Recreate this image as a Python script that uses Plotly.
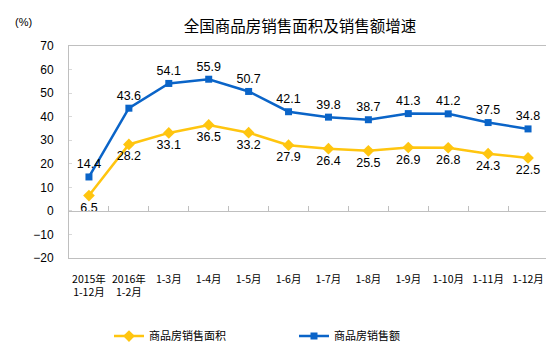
import plotly.graph_objects as go

categories = ["2015年<br>1-12月", "2016年<br>1-2月", "1-3月", "1-4月", "1-5月", "1-6月",
              "1-7月", "1-8月", "1-9月", "1-10月", "1-11月", "1-12月"]
area_growth = [6.5, 28.2, 33.1, 36.5, 33.2, 27.9, 26.4, 25.5, 26.9, 26.8, 24.3, 22.5]
sales_growth = [14.4, 43.6, 54.1, 55.9, 50.7, 42.1, 39.8, 38.7, 41.3, 41.2, 37.5, 34.8]
y_ticks = [-20, -10, 0, 10, 20, 30, 40, 50, 60, 70]

YELLOW = "#FFC50F"
BLUE = "#0A64C8"
GRID = "#BFBFBF"
FONT = "Liberation Sans, Arial, sans-serif"
CJK = "Noto Sans CJK SC, sans-serif"

fig = go.Figure()
fig.add_trace(go.Scatter(
    x=categories, y=area_growth, name="商品房销售面积",
    mode="lines+markers+text",
    line=dict(color=YELLOW, width=2.5),
    marker=dict(symbol="diamond", size=9, color=YELLOW),
    text=[f"{v:.1f}" for v in area_growth], textposition="bottom center",
    textfont=dict(family=FONT, size=12.5, color="#000000"),
))
fig.add_trace(go.Scatter(
    x=categories, y=sales_growth, name="商品房销售额",
    mode="lines+markers+text",
    line=dict(color=BLUE, width=2.5),
    marker=dict(symbol="square", size=7, color=BLUE),
    text=[f"{v:.1f}" for v in sales_growth], textposition="top center",
    textfont=dict(family=FONT, size=12.5, color="#000000"),
))

# invisible helper trace so the zero-line axis (category boundary ticks) is drawn
fig.add_trace(go.Scatter(x=[0.5], y=[0], xaxis="x2", showlegend=False,
                         mode="markers", marker=dict(opacity=0), hoverinfo="skip"))

zero_frac = (0 - y_ticks[0]) / (y_ticks[-1] - y_ticks[0])

fig.update_layout(
    width=546, height=349,
    margin=dict(l=61, r=6, t=38, b=97),
    paper_bgcolor="white", plot_bgcolor="white",
    showlegend=True,
    title=dict(text="全国商品房销售面积及销售额增速", x=0.535, xanchor="center",
               y=1 - 19 / 349, yanchor="middle",
               font=dict(family=CJK, size=15.5, color="#000000")),
    xaxis=dict(
        type="category", range=[-0.5, len(categories) - 0.5],
        showgrid=False, zeroline=False,
        showline=True, mirror=True, linecolor=GRID, linewidth=1,
        ticks="", tickfont=dict(family=CJK, size=10.5, color="#000000"),
        tickangle=0, ticklabelstandoff=11,
    ),
    xaxis2=dict(
        overlaying="x", anchor="free", position=zero_frac, side="bottom",
        range=[-0.5, len(categories) - 0.5],
        tickvals=[i + 0.5 for i in range(len(categories) - 1)],
        showticklabels=False, ticks="inside", ticklen=5, tickcolor=GRID,
        showline=True, linecolor=GRID, linewidth=1, showgrid=False, zeroline=False,
    ),
    yaxis=dict(
        range=[y_ticks[0], y_ticks[-1]], tickvals=y_ticks,
        showgrid=False, zeroline=False,
        showline=True, mirror=True, linecolor=GRID, linewidth=1,
        ticks="inside", ticklen=3, tickcolor="#D9D9D9",
        tickfont=dict(family=FONT, size=12, color="#000000"),
        ticklabelstandoff=12,
    ),
    legend=dict(orientation="h", x=0.0835, xanchor="left", y=-0.30, yanchor="top",
                font=dict(family=CJK, size=11, color="#000000"),
                entrywidth=140, itemwidth=30),
    annotations=[dict(text="(%)", xref="paper", yref="paper", x=-0.096, y=1.112,
                      xanchor="center", yanchor="middle", showarrow=False,
                      font=dict(family=FONT, size=11, color="#000000"))],
)

fig.write_html("out.html")
